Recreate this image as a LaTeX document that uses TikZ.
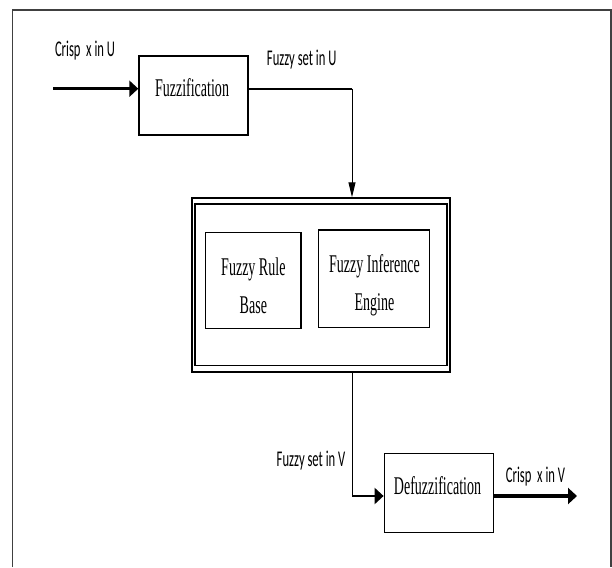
\documentclass[tikz,border=0pt]{standalone}
\usepackage{fontspec}
\usetikzlibrary{arrows.meta}
\newfontfamily\lblfont[FakeStretch=0.56]{Carlito}
\newfontfamily\boxfont[FakeStretch=0.55]{Liberation Serif}
\begin{document}
\begin{tikzpicture}[x=1pt,y=-1pt,
  blk/.style={draw, line width=1.4pt, inner sep=0pt},
  lbl/.style={font=\lblfont\fontsize{22.5}{27}\selectfont, inner sep=0pt, anchor=base},
  btxt/.style={font=\boxfont\fontsize{25.5}{38}\selectfont, inner sep=0pt, anchor=base},
  hhead/.style={-{Triangle[length=9pt,width=16pt]}},
  vhead/.style={-{Triangle[length=15pt,width=7pt]}},
]
\useasboundingbox (0,0) rectangle (612,567);
\draw[line width=1.5pt, black!75] (12.5,567) -- (12.5,10) -- (611,10) -- (611,567);

\node[blk, minimum width=109pt, minimum height=79pt] (fuzz) at (193.5,95.5) {};
\node[btxt] (fuzzt) at (192,96.5) {Fuzzification};

\node[blk, line width=2pt, minimum width=257.7pt, minimum height=173.4pt] (kb) at (321.15,285) {};
\node[blk, minimum width=252pt, minimum height=161.5pt] (kbin) at (321.15,284.75) {};
\node[blk, minimum width=95.3pt, minimum height=95.6pt] (rule) at (253.35,280.5) {};
\node[btxt] (rulet) at (253.35,275) {\begin{tabular}[t]{@{}c@{}}Fuzzy Rule\\Base\end{tabular}};
\node[blk, minimum width=111pt, minimum height=97.7pt] (inf) at (373.8,278.85) {};
\node[btxt] (inft) at (374.5,272.7) {\begin{tabular}[t]{@{}c@{}}Fuzzy Inference\\Engine\end{tabular}};
\node[blk, minimum width=109pt, minimum height=79.4pt] (defuzz) at (438.8,493) {};
\node[btxt] (defuzzt) at (437.5,494.5) {Defuzzification};

\node[lbl] (l1) at (85,56.5) {Crisp\ \ x in U};
\node[lbl] (l2) at (301.7,66) {Fuzzy set in U};
\node[lbl] (l3) at (311,466.5) {Fuzzy set in V};
\node[lbl] (l4) at (535.5,482) {Crisp\ \ x in V};

\coordinate (in) at (53,88.7);
\draw[line width=3.2pt, hhead] (in) -- (in -| fuzz.west);
\coordinate (c1) at (352,88.7);
\draw[line width=1.8pt] (c1 -| fuzz.east) -- (c1);
\draw[line width=1pt, vhead] (c1) -- (c1 |- kb.north);
\coordinate (c2) at (352,496);
\draw[line width=1pt] (c2 |- kb.south) -- (c2);
\draw[line width=2.5pt, hhead] (c2) -- (c2 -| defuzz.west);
\coordinate (out) at (577,496);
\draw[line width=3.2pt, hhead] (c2 -| defuzz.east) -- (out);
\end{tikzpicture}
\end{document}
